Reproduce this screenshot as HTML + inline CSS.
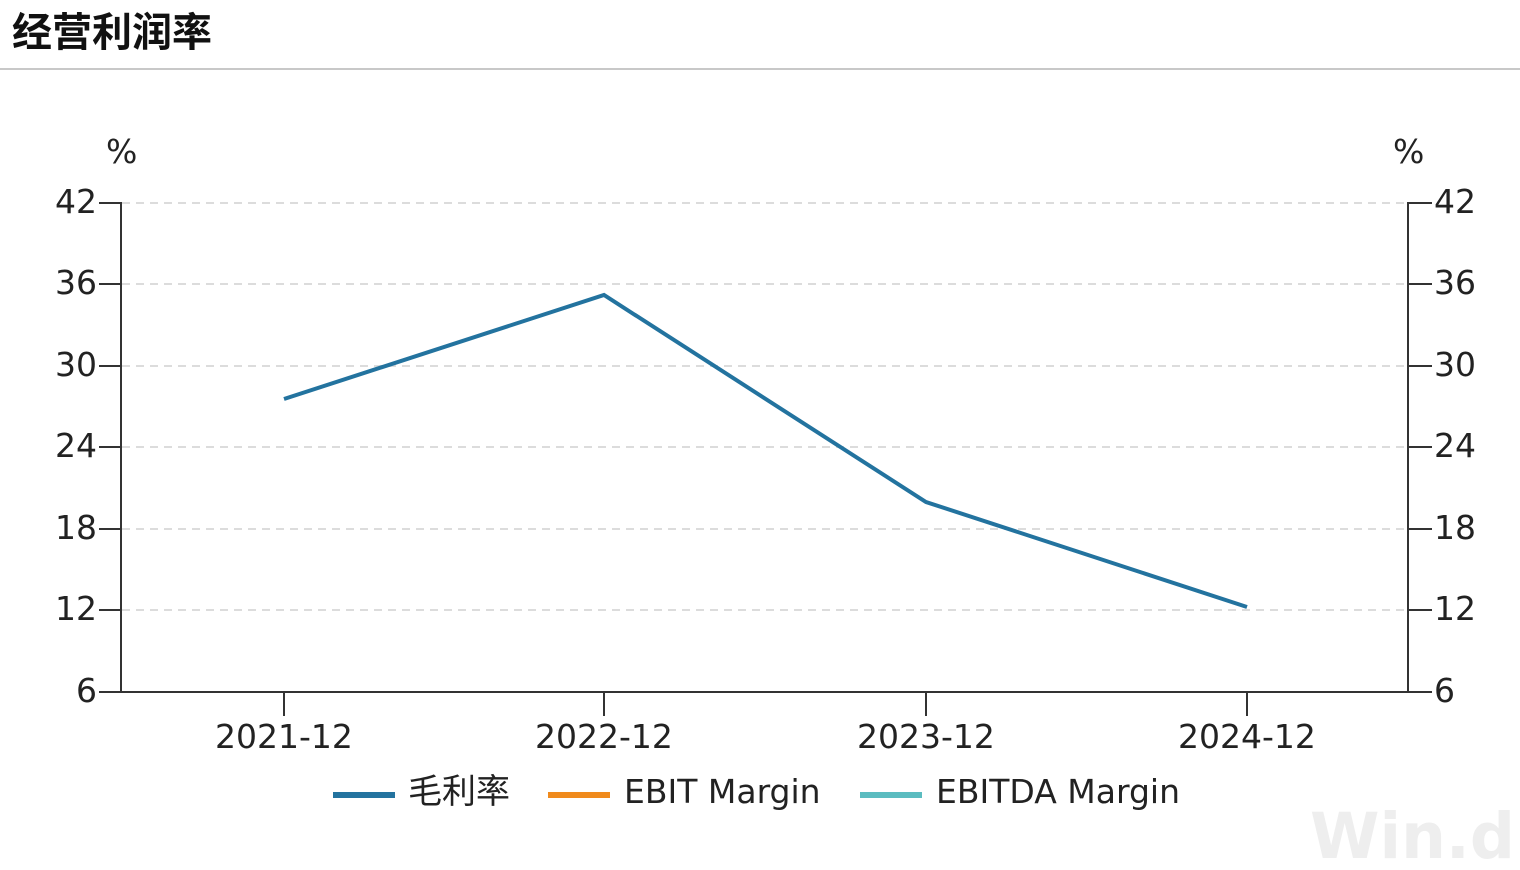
<!DOCTYPE html>
<html><head><meta charset="utf-8"><style>
html,body{margin:0;padding:0;background:#fff;width:1520px;height:870px;overflow:hidden}
svg text{font-family:"DejaVu Sans","Noto Sans CJK SC",sans-serif}
</style></head><body>
<svg width="1520" height="870" xmlns="http://www.w3.org/2000/svg">
<text x="12" y="46" font-size="40" font-weight="bold" fill="#111" style="font-family:'Noto Sans CJK SC',sans-serif">经营利润率</text>
<line x1="0" y1="69" x2="1520" y2="69" stroke="#c8c8c8" stroke-width="2"/>
<text x="1310" y="858" font-size="63" font-weight="bold" fill="#eeeeee">Win.d</text>
<g stroke="#dcdcdc" stroke-width="2" stroke-dasharray="8,6">
<line x1="122" y1="203" x2="1408" y2="203"/>
<line x1="122" y1="284" x2="1408" y2="284"/>
<line x1="122" y1="366" x2="1408" y2="366"/>
<line x1="122" y1="447" x2="1408" y2="447"/>
<line x1="122" y1="529" x2="1408" y2="529"/>
<line x1="122" y1="610" x2="1408" y2="610"/>
</g>
<g stroke="#333" stroke-width="2" fill="none">
<line x1="121" y1="202" x2="121" y2="692"/>
<line x1="1408" y1="202" x2="1408" y2="692"/>
<line x1="121" y1="692" x2="1408" y2="692"/>
<path d="M99 203H121M99 284H121M99 366H121M99 447H121M99 529H121M99 610H121M99 692H121"/>
<path d="M1408 203H1432M1408 284H1432M1408 366H1432M1408 447H1432M1408 529H1432M1408 610H1432M1408 692H1432"/>
<path d="M284 692V716M604 692V716M926 692V716M1247 692V716"/>
</g>
<g font-size="33" fill="#222">
<text x="106" y="163">%</text>
<text x="1393" y="163">%</text>
<g text-anchor="end">
<text x="97" y="213">42</text><text x="97" y="294">36</text><text x="97" y="376">30</text><text x="97" y="457">24</text><text x="97" y="539">18</text><text x="97" y="620">12</text><text x="97" y="702">6</text>
</g>
<text x="1434" y="213">42</text><text x="1434" y="294">36</text><text x="1434" y="376">30</text><text x="1434" y="457">24</text><text x="1434" y="539">18</text><text x="1434" y="620">12</text><text x="1434" y="702">6</text>
<g text-anchor="middle">
<text x="284" y="748">2021-12</text><text x="604" y="748">2022-12</text><text x="926" y="748">2023-12</text><text x="1247" y="748">2024-12</text>
</g>
<text x="408" y="803" style="font-family:'Noto Sans CJK SC',sans-serif" font-size="34">毛利率</text>
<text x="624" y="803">EBIT Margin</text>
<text x="936" y="803">EBITDA Margin</text>
</g>
<polyline points="284,399 604,295 926,502 1247,607" fill="none" stroke="#23739f" stroke-width="4"/>
<line x1="333" y1="795" x2="395" y2="795" stroke="#23739f" stroke-width="6"/>
<line x1="548" y1="795" x2="610" y2="795" stroke="#f08a1c" stroke-width="6"/>
<line x1="860" y1="795" x2="922" y2="795" stroke="#5bbcc0" stroke-width="6"/>
</svg>
</body></html>
